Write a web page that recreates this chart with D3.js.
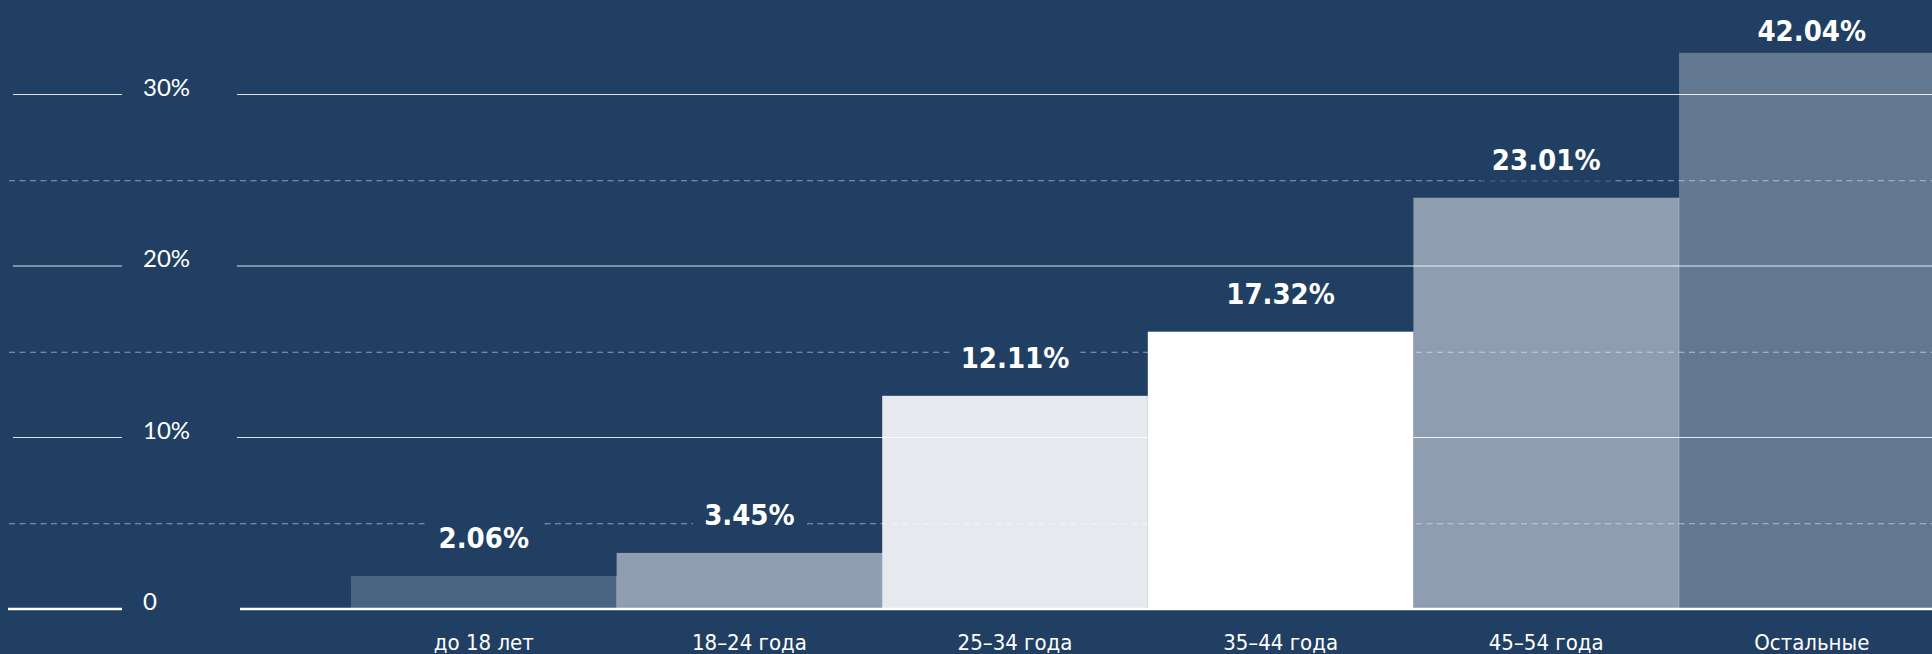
<!DOCTYPE html>
<html>
<head>
<meta charset="utf-8">
<script src="https://cdn.jsdelivr.net/npm/d3@7"></script>
<style>
  html, body { margin: 0; padding: 0; background: #213f63; overflow: hidden; }
  .tick-label { font-family: Lato, "Open Sans", sans-serif; font-size: 24px; fill: #ffffff; }
  .cat-label { font-family: "DejaVu Sans Condensed", "DejaVu Sans", sans-serif; font-stretch: condensed; font-size: 22px; fill: #ffffff; }
  .val-label { font-family: "DejaVu Sans Condensed", "DejaVu Sans", sans-serif; font-stretch: condensed; font-weight: bold; font-size: 29px; fill: #ffffff; }
</style>
</head>
<body>
<div id="chart"></div>
<script>
// data
const categories = ["до 18 лет", "18–24 года", "25–34 года", "35–44 года", "45–54 года", "Остальные"];
const barValues = [1.92, 3.27, 12.43, 16.17, 23.98, 32.43];   // drawn heights, %
const valueLabels = ["2.06%", "3.45%", "12.11%", "17.32%", "23.01%", "42.04%"];
const barColors = ["#4a6483", "#8e9db0", "#e6eaef", "#ffffff", "#8e9db0", "#627890"];
const solidTicks = [0, 10, 20, 30];
const dashedTicks = [5, 15, 25];
const tickLabels = ["0", "10%", "20%", "30%"];

const width = 1932, height = 654;
const bg = "#213f63";

const svg = d3.select("#chart").append("svg")
    .attr("width", width)
    .attr("height", height);

svg.append("rect").attr("width", width).attr("height", height).attr("fill", bg);

const x = d3.scaleBand()
    .domain(categories)
    .range([351, 351 + 6 * 265.6])
    .padding(0);

const y = d3.scaleLinear()
    .domain([0, 30])
    .range([609, 94.5]);

// bars
svg.append("g").attr("class", "bars")
    .selectAll("rect")
    .data(barValues)
    .enter().append("rect")
    .attr("x", function (d, i) { return x(categories[i]); })
    .attr("width", x.bandwidth())
    .attr("y", function (d) { return y(d); })
    .attr("height", function (d) { return y(0) - y(d); })
    .attr("fill", function (d, i) { return barColors[i]; });

// thin separators between neighbouring bars
svg.append("g")
    .selectAll("line")
    .data(categories.slice(1))
    .enter().append("line")
    .attr("x1", function (d) { return x(d); })
    .attr("x2", function (d) { return x(d); })
    .attr("y1", function (d, i) { return y(Math.min(barValues[i], barValues[i + 1])); })
    .attr("y2", y(0))
    .attr("stroke", "rgba(255,255,255,0.25)")
    .attr("stroke-width", 1);

// dashed half-step lines
svg.append("g").attr("class", "dashed")
    .selectAll("line")
    .data(dashedTicks)
    .enter().append("line")
    .attr("x1", 9).attr("x2", width)
    .attr("y1", function (d) { return y(d) + 0.5; })
    .attr("y2", function (d) { return y(d) + 0.5; })
    .attr("stroke", "rgba(255,255,255,0.5)")
    .attr("stroke-width", 1)
    .attr("stroke-dasharray", "6,4.5");

// solid grid lines, split around the tick labels
const grid = svg.append("g").attr("class", "grid");
grid.selectAll(".left")
    .data(solidTicks)
    .enter().append("line")
    .attr("x1", function (d) { return d === 0 ? 8 : 13; })
    .attr("x2", 122)
    .attr("y1", function (d) { return y(d); })
    .attr("y2", function (d) { return y(d); })
    .attr("stroke", function (d) { return d === 0 ? "#ffffff" : "rgba(255,255,255,0.85)"; })
    .attr("stroke-width", function (d) { return d === 0 ? 2.5 : 1.2; });
grid.selectAll(".right")
    .data(solidTicks)
    .enter().append("line")
    .attr("x1", function (d) { return d === 0 ? 240 : 237; })
    .attr("x2", width)
    .attr("y1", function (d) { return y(d); })
    .attr("y2", function (d) { return y(d); })
    .attr("stroke", function (d) { return d === 0 ? "#ffffff" : "rgba(255,255,255,0.85)"; })
    .attr("stroke-width", function (d) { return d === 0 ? 2.5 : 1.2; });

svg.append("g")
    .selectAll("text")
    .data(solidTicks)
    .enter().append("text")
    .attr("class", "tick-label")
    .attr("x", 143)
    .attr("y", function (d) { return y(d) + 1; })
    .text(function (d, i) { return tickLabels[i]; });

// value labels with a background box that cuts the grid lines
const labels = svg.append("g").attr("class", "values")
    .selectAll("g")
    .data(barValues)
    .enter().append("g");

labels.append("rect").attr("fill", bg);
labels.append("text")
    .attr("class", "val-label")
    .attr("text-anchor", "middle")
    .attr("x", function (d, i) { return x(categories[i]) + x.bandwidth() / 2; })
    .attr("y", function (d) { return Math.max(41, y(d) - 28); })
    .text(function (d, i) { return valueLabels[i]; });

labels.each(function () {
    const g = d3.select(this);
    const b = g.select("text").node().getBBox();
    g.select("rect")
        .attr("x", b.x - 11)
        .attr("y", b.y - 4)
        .attr("width", b.width + 22)
        .attr("height", b.height + 8);
});

// category labels
svg.append("g")
    .selectAll("text")
    .data(categories)
    .enter().append("text")
    .attr("class", "cat-label")
    .attr("text-anchor", "middle")
    .attr("x", function (d) { return x(d) + x.bandwidth() / 2; })
    .attr("y", 650)
    .text(function (d) { return d; });
</script>
</body>
</html>
